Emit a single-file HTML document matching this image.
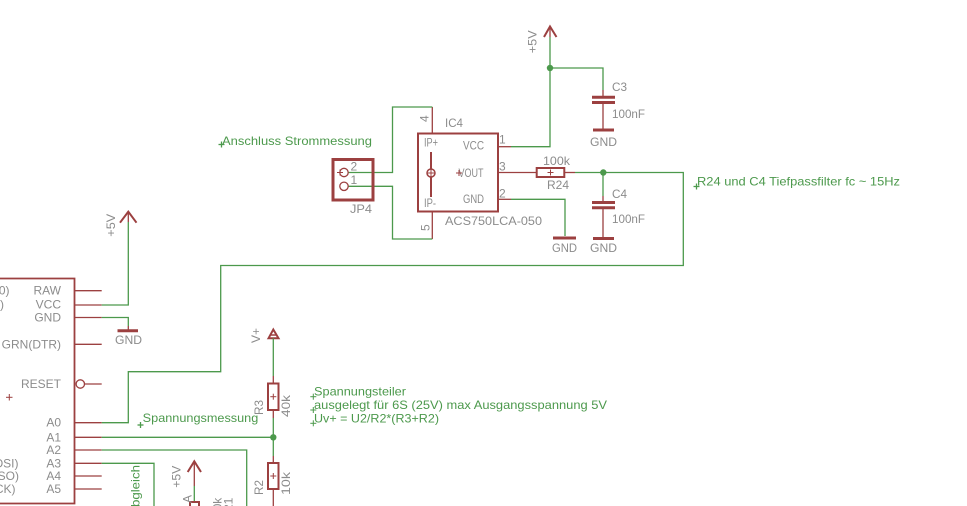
<!DOCTYPE html>
<html><head><meta charset="utf-8"><style>
html,body{margin:0;padding:0;background:#fff;width:967px;height:506px;overflow:hidden;}
svg{display:block;}
text{font-family:"Liberation Sans",Arial,sans-serif;}
.g{fill:#8c8c8c;font-size:12px;}
.t{fill:#4c994c;font-size:12px;}
.w{stroke:#4c994c;stroke-width:1.3;fill:none;}
.r{stroke:#9c4040;stroke-width:1.3;fill:none;}
.rb{stroke:#9c4040;stroke-width:2;fill:none;}
.gnd{stroke:#9c4040;stroke-width:3;}
</style></head><body>
<svg width="967" height="506" viewBox="0 0 967 506" xmlns="http://www.w3.org/2000/svg" overflow="hidden">
<defs><clipPath id="cl"><rect x="0" y="0" width="967" height="506"/></clipPath></defs>
<g clip-path="url(#cl)">
<rect width="967" height="506" fill="#fff"/>

<!-- ===== Top +5V / C3 ===== -->
<polyline class="rb" points="544,37 550,26.5 556.5,37" stroke-width="2.5"/>
<line class="r" x1="550" y1="27" x2="550" y2="37"/>
<polyline class="w" points="550,37 550,146.7 511,146.7"/>
<line class="r" x1="498" y1="146.7" x2="511" y2="146.7"/>
<polyline class="w" points="550,68 603,68 603,90"/>
<line class="r" x1="603" y1="90" x2="603" y2="97"/>
<line class="gnd" x1="592" y1="97.3" x2="615" y2="97.3"/>
<line class="gnd" x1="592" y1="102.5" x2="615" y2="102.5"/>
<line class="r" x1="603" y1="102.5" x2="603" y2="130"/>
<line class="gnd" x1="593" y1="130" x2="614" y2="130"/>
<circle cx="550" cy="68" r="3.2" fill="#4c994c"/>
<text class="g" transform="translate(536.7,53.3) rotate(-90)" textLength="23" lengthAdjust="spacingAndGlyphs">+5V</text>
<text class="g" x="612" y="91" font-size="13" textLength="15" lengthAdjust="spacingAndGlyphs">C3</text>
<text class="g" x="612" y="118" font-size="13" textLength="33" lengthAdjust="spacingAndGlyphs">100nF</text>
<text class="g" x="590" y="146" font-size="13" textLength="27" lengthAdjust="spacingAndGlyphs">GND</text>

<!-- ===== IC4 ===== -->
<rect x="418" y="133.5" width="80" height="78" class="rb"/>
<line class="r" x1="432.3" y1="107" x2="432.3" y2="133"/>
<line class="r" x1="432.3" y1="212" x2="432.3" y2="239"/>
<polyline class="w" points="432.3,107 392.5,107 392.5,172.5 348,172.5"/>
<polyline class="w" points="432.3,239 392.5,239 392.5,186.3 348,186.3"/>
<line x1="431" y1="152" x2="431" y2="197" stroke="#9c4040" stroke-width="2"/>
<circle cx="431" cy="173" r="4" fill="#fff" stroke="#9c4040" stroke-width="1.5"/>
<line x1="427" y1="173" x2="435" y2="173" stroke="#9c4040" stroke-width="1"/>
<line x1="431" y1="169" x2="431" y2="177" stroke="#9c4040" stroke-width="1"/>
<text class="g" x="445" y="127" font-size="13" textLength="18" lengthAdjust="spacingAndGlyphs">IC4</text>
<text class="g" x="463" y="149.5" font-size="11.5" textLength="21" lengthAdjust="spacingAndGlyphs">VCC</text>
<text class="g" x="458.5" y="177" font-size="11.5" textLength="25" lengthAdjust="spacingAndGlyphs">VOUT</text>
<line x1="456" y1="173" x2="462" y2="173" stroke="#9c4040" stroke-width="1"/>
<line x1="459" y1="170" x2="459" y2="176" stroke="#9c4040" stroke-width="1"/>
<text class="g" x="463" y="203" font-size="11.5" textLength="21" lengthAdjust="spacingAndGlyphs">GND</text>
<text class="g" x="424" y="146.5" font-size="11" textLength="14" lengthAdjust="spacingAndGlyphs">IP+</text>
<text class="g" x="424" y="207" font-size="11" textLength="12" lengthAdjust="spacingAndGlyphs">IP-</text>
<text class="g" x="445" y="225" font-size="13" textLength="97" lengthAdjust="spacingAndGlyphs">ACS750LCA-050</text>
<text class="g" x="499" y="143.5" font-size="11">1</text>
<text class="g" x="499" y="170.5" font-size="11">3</text>
<text class="g" x="499" y="197.5" font-size="11">2</text>
<text class="g" transform="translate(428.5,122) rotate(-90)" font-size="11">4</text>
<text class="g" transform="translate(429.5,231) rotate(-90)" font-size="11">5</text>

<!-- pin 3 / R24 -->
<line class="r" x1="498" y1="172.5" x2="536.7" y2="172.5"/>
<rect x="536.7" y="168" width="27.6" height="9" class="rb"/>
<line x1="547.5" y1="172.5" x2="553.5" y2="172.5" stroke="#9c4040" stroke-width="1"/>
<line x1="550.5" y1="169.5" x2="550.5" y2="175.5" stroke="#9c4040" stroke-width="1"/>
<line class="r" x1="564.3" y1="172.5" x2="575" y2="172.5"/>
<polyline class="w" points="575,172.5 683.3,172.5 683.3,265.5 220.7,265.5 220.7,371.7 128.3,371.7 128.3,422.7 101.7,422.7"/>
<text class="g" x="543" y="165" font-size="12" textLength="27" lengthAdjust="spacingAndGlyphs">100k</text>
<text class="g" x="547" y="189" font-size="12" textLength="22" lengthAdjust="spacingAndGlyphs">R24</text>

<!-- pin 2 GND -->
<line class="r" x1="498" y1="199.3" x2="511" y2="199.3"/>
<polyline class="w" points="511,199.3 565,199.3 565,236"/>
<line class="gnd" x1="553" y1="238" x2="576" y2="238"/>
<text class="g" x="552" y="252" font-size="13" textLength="25" lengthAdjust="spacingAndGlyphs">GND</text>

<!-- C4 -->
<line class="w" x1="603" y1="172.5" x2="603" y2="196"/>
<line class="r" x1="603" y1="196" x2="603" y2="202.5"/>
<line class="gnd" x1="592" y1="202.5" x2="615" y2="202.5"/>
<line class="gnd" x1="592" y1="207.7" x2="615" y2="207.7"/>
<line class="r" x1="603" y1="207.7" x2="603" y2="238"/>
<line class="gnd" x1="593" y1="238.5" x2="614" y2="238.5"/>
<circle cx="603.3" cy="172.5" r="3.2" fill="#4c994c"/>
<text class="g" x="612" y="198" font-size="13" textLength="15" lengthAdjust="spacingAndGlyphs">C4</text>
<text class="g" x="612" y="223" font-size="13" textLength="33" lengthAdjust="spacingAndGlyphs">100nF</text>
<text class="g" x="590" y="252" font-size="13" textLength="27" lengthAdjust="spacingAndGlyphs">GND</text>

<text class="t" x="697" y="185.5" font-size="12.5" textLength="203" lengthAdjust="spacingAndGlyphs">R24 und C4 Tiefpassfilter fc ~ 15Hz</text>
<line class="w" x1="693.5" y1="186.5" x2="699.5" y2="186.5" stroke-width="1"/>
<line class="w" x1="696.5" y1="183.5" x2="696.5" y2="189.5" stroke-width="1"/>

<!-- ===== JP4 ===== -->
<rect x="333" y="159.5" width="40" height="40.5" fill="none" stroke="#9c4040" stroke-width="3"/>
<circle cx="344" cy="172.5" r="4.2" fill="#fff" stroke="#9c4040" stroke-width="1.3"/>
<circle cx="344" cy="186.3" r="4.2" fill="#fff" stroke="#9c4040" stroke-width="1.3"/>
<line x1="337" y1="172.5" x2="343" y2="172.5" stroke="#9c4040" stroke-width="1"/>
<line x1="340" y1="169.5" x2="340" y2="175.5" stroke="#9c4040" stroke-width="1"/>
<text class="g" x="350.5" y="170.5" font-size="10">2</text>
<text class="g" x="350.5" y="184" font-size="10">1</text>
<text class="g" x="350" y="213" font-size="13" textLength="22" lengthAdjust="spacingAndGlyphs">JP4</text>
<text class="t" x="222" y="145" font-size="12.5" textLength="150" lengthAdjust="spacingAndGlyphs">Anschluss Strommessung</text>
<line class="w" x1="218.5" y1="144.5" x2="224.5" y2="144.5" stroke-width="1"/>
<line class="w" x1="221.5" y1="141.5" x2="221.5" y2="147.5" stroke-width="1"/>

<!-- ===== Board (left) ===== -->
<polyline points="0,278.5 74.5,278.5 74.5,503.5 0,503.5" fill="none" stroke="#9c4040" stroke-width="1.8"/>
<g class="r">
<line x1="75" y1="290.7" x2="101.7" y2="290.7"/>
<line x1="75" y1="305" x2="101.7" y2="305"/>
<line x1="75" y1="317.5" x2="101.7" y2="317.5"/>
<line x1="75" y1="344.3" x2="101.7" y2="344.3"/>
<line x1="84.5" y1="384" x2="101.7" y2="384"/>
<line x1="75" y1="422.7" x2="101.7" y2="422.7"/>
<line x1="75" y1="437.3" x2="101.7" y2="437.3"/>
<line x1="75" y1="450" x2="101.7" y2="450"/>
<line x1="75" y1="463.3" x2="101.7" y2="463.3"/>
<line x1="75" y1="476" x2="101.7" y2="476"/>
<line x1="75" y1="489" x2="101.7" y2="489"/>
</g>
<circle cx="80.3" cy="384" r="4.2" fill="#fff" stroke="#9c4040" stroke-width="1.3"/>
<line x1="6" y1="397.3" x2="12.5" y2="397.3" stroke="#9c4040" stroke-width="1"/>
<line x1="9.3" y1="394" x2="9.3" y2="400.5" stroke="#9c4040" stroke-width="1"/>
<g class="g" font-size="11" text-anchor="end">
<text x="61" y="294.3">RAW</text>
<text x="61" y="308.7">VCC</text>
<text x="61" y="321.5">GND</text>
<text x="61" y="348.3">GRN(DTR)</text>
<text x="61" y="388">RESET</text>
<text x="61" y="426.7">A0</text>
<text x="61" y="441.3">A1</text>
<text x="61" y="454">A2</text>
<text x="61" y="467.3">A3</text>
<text x="61" y="480">A4</text>
<text x="61" y="493">A5</text>
<text x="9.5" y="294.3">(TX0)</text>
<text x="4" y="308.7">(RXI)</text>
<text x="18.5" y="467.3">D11(MOSI)</text>
<text x="19" y="480">D12(MISO)</text>
<text x="15.5" y="493">D13(SCK)</text>
</g>

<!-- VCC -> +5V -->
<polyline class="w" points="101.7,305 128.3,305 128.3,222"/>
<polyline class="rb" points="120,222.7 128.3,211.7 136.5,222.7" stroke-width="2.5"/>
<line class="r" x1="128.3" y1="212" x2="128.3" y2="222"/>
<text class="g" transform="translate(115,236.7) rotate(-90)" textLength="23" lengthAdjust="spacingAndGlyphs">+5V</text>
<!-- GND -->
<polyline class="w" points="101.7,317.5 128.3,317.5 128.3,326"/>
<line class="r" x1="128.3" y1="326" x2="128.3" y2="330.5"/>
<line class="gnd" x1="117.5" y1="330.7" x2="138" y2="330.7"/>
<text class="g" x="115" y="344" font-size="13" textLength="27" lengthAdjust="spacingAndGlyphs">GND</text>

<!-- A1, A2, A3 -->
<line class="w" x1="101.7" y1="437.3" x2="273.3" y2="437.3"/>
<polyline class="w" points="101.7,450 246.7,450 246.7,506"/>
<polyline class="w" points="101.7,463.3 154,463.3 154,506"/>
<text class="t" transform="translate(139.5,465) rotate(-90)" text-anchor="end" font-size="12.5" textLength="42" lengthAdjust="spacingAndGlyphs">bgleich</text>

<text class="t" x="142.7" y="422" font-size="12.5" textLength="115.6" lengthAdjust="spacingAndGlyphs">Spannungsmessung</text>
<line class="w" x1="137.5" y1="425" x2="143.5" y2="425" stroke-width="1"/>
<line class="w" x1="140.5" y1="422" x2="140.5" y2="428" stroke-width="1"/>

<!-- bottom +5V -->
<polyline class="rb" points="187.7,472 194.3,461.3 201,472" stroke-width="2.5"/>
<line class="r" x1="194.3" y1="461.5" x2="194.3" y2="486"/>
<line class="w" x1="194.3" y1="486" x2="194.3" y2="502"/>
<polyline points="190,506 190,502 199,502 199,506" fill="none" stroke="#9c4040" stroke-width="2"/>
<text class="g" transform="translate(180.5,487.7) rotate(-90)" textLength="22" lengthAdjust="spacingAndGlyphs">+5V</text>
<text class="g" transform="translate(191.7,495) rotate(-90)" text-anchor="end" font-size="10">A</text>
<text class="g" transform="translate(221.7,497.7) rotate(-90)" text-anchor="end" font-size="12">0k</text>
<text class="g" transform="translate(232.7,497.7) rotate(-90)" text-anchor="end" font-size="12">21</text>

<!-- ===== V+ divider ===== -->
<polygon points="268.5,338.3 273.3,329.5 278.5,338.3" fill="none" stroke="#9c4040" stroke-width="2"/>
<line x1="270" y1="335" x2="276.6" y2="335" stroke="#9c4040" stroke-width="1.5"/>
<line class="w" x1="273.3" y1="338.3" x2="273.3" y2="376"/>
<line class="r" x1="273.3" y1="376" x2="273.3" y2="383.3"/>
<rect x="268" y="383.5" width="10.5" height="26.5" class="rb"/>
<line x1="270.3" y1="396.7" x2="276.3" y2="396.7" stroke="#9c4040" stroke-width="1"/>
<line x1="273.3" y1="393.7" x2="273.3" y2="399.7" stroke="#9c4040" stroke-width="1"/>
<line class="r" x1="273.3" y1="410" x2="273.3" y2="418"/>
<line class="w" x1="273.3" y1="418" x2="273.3" y2="456"/>
<line class="r" x1="273.3" y1="456" x2="273.3" y2="462.7"/>
<rect x="268" y="463" width="10.5" height="26" class="rb"/>
<line x1="270.3" y1="476" x2="276.3" y2="476" stroke="#9c4040" stroke-width="1"/>
<line x1="273.3" y1="473" x2="273.3" y2="479" stroke="#9c4040" stroke-width="1"/>
<line class="r" x1="273.3" y1="489" x2="273.3" y2="506"/>
<circle cx="273.3" cy="437.3" r="3.2" fill="#4c994c"/>
<text class="g" transform="translate(260,343) rotate(-90)" textLength="15" lengthAdjust="spacingAndGlyphs">V+</text>
<text class="g" transform="translate(263,415) rotate(-90)" textLength="15" lengthAdjust="spacingAndGlyphs">R3</text>
<text class="g" transform="translate(290,417) rotate(-90)" textLength="22" lengthAdjust="spacingAndGlyphs">40k</text>
<text class="g" transform="translate(263,495) rotate(-90)" textLength="15" lengthAdjust="spacingAndGlyphs">R2</text>
<text class="g" transform="translate(290,495) rotate(-90)" textLength="23" lengthAdjust="spacingAndGlyphs">10k</text>

<text class="t" x="314" y="395.3" font-size="12.5" textLength="92" lengthAdjust="spacingAndGlyphs">Spannungsteiler</text>
<text class="t" x="314" y="409" font-size="12.5" textLength="293" lengthAdjust="spacingAndGlyphs">ausgelegt für 6S (25V) max Ausgangsspannung 5V</text>
<text class="t" x="314" y="422.3" font-size="12.5" textLength="125" lengthAdjust="spacingAndGlyphs">Uv+ = U2/R2*(R3+R2)</text>
<g stroke="#4c994c" stroke-width="1">
<line x1="310.3" y1="396.7" x2="316.3" y2="396.7"/><line x1="313.3" y1="393.7" x2="313.3" y2="399.7"/>
<line x1="310.3" y1="410" x2="316.3" y2="410"/><line x1="313.3" y1="407" x2="313.3" y2="413"/>
<line x1="310.3" y1="423.3" x2="316.3" y2="423.3"/><line x1="313.3" y1="420.3" x2="313.3" y2="426.3"/>
</g>
</g>
</svg>
</body></html>
